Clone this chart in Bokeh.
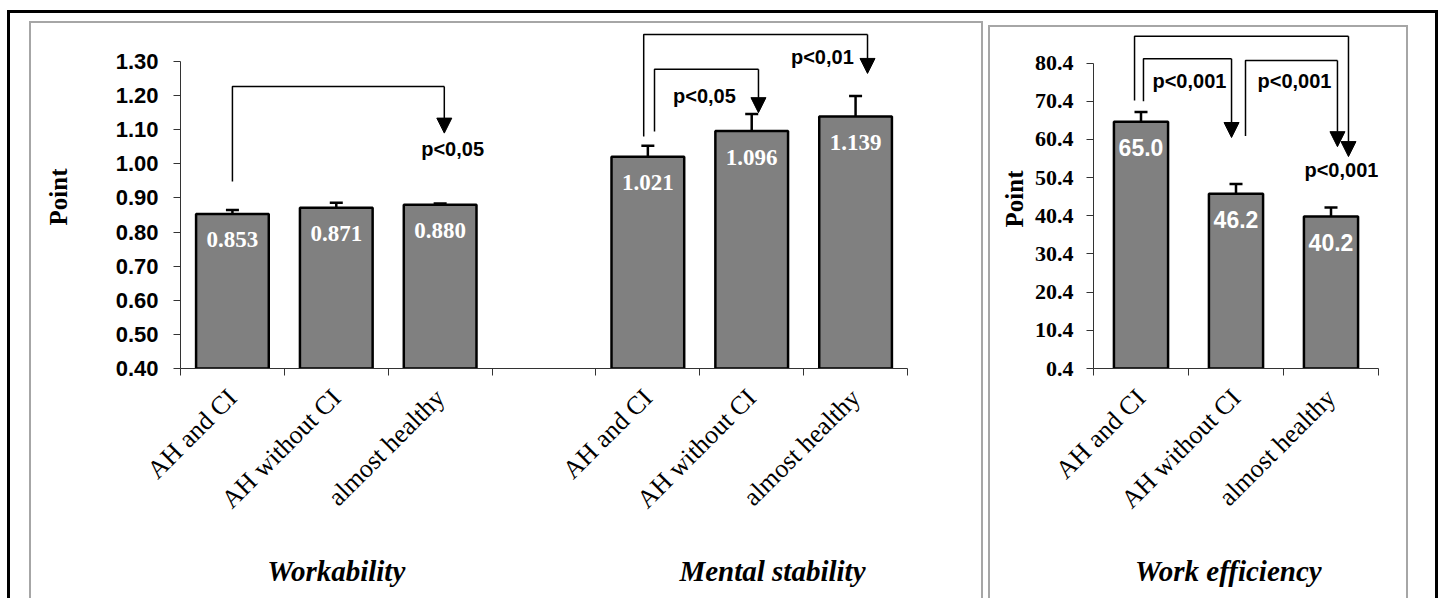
import math
from bokeh.plotting import figure
from bokeh.layouts import row
from bokeh.models import (Range1d, FixedTicker, Whisker, TeeHead, Arrow, NormalHead,
                          LinearAxis, ColumnDataSource, NumeralTickFormatter)
from bokeh.core.properties import value
from bokeh.embed import file_html
from bokeh.resources import INLINE

# ---------------- data ----------------
groups = ["AH and CI", "AH without CI", "almost healthy"]
workability = [0.853, 0.871, 0.880]
workability_err = [0.012, 0.015, 0.004]
mental = [1.021, 1.096, 1.139]
mental_err = [0.032, 0.050, 0.060]
efficiency = [65.0, 46.2, 40.2]
efficiency_err = [2.6, 2.5, 2.4]
left_ticks = [0.40, 0.50, 0.60, 0.70, 0.80, 0.90, 1.00, 1.10, 1.20, 1.30]
right_ticks = [0.4, 10.4, 20.4, 30.4, 40.4, 50.4, 60.4, 70.4, 80.4]
panel_titles = ["Workability", "Mental stability", "Work efficiency"]
y_label = "Point"

# significance brackets: (x_left, x_right, y_start, y_top, y_tip, label, label_x, label_y)
left_brackets = [
    (1.00, 3.04, 0.948, 1.227, 1.090, "p<0,05", 3.12, 1.042),
    (4.96, 7.115, 1.080, 1.379, 1.265, "p<0,01", 6.68, 1.312),
    (5.064, 6.065, 1.095, 1.277, 1.150, "p<0,05", 5.545, 1.198),
]
right_brackets = [
    (0.932, 3.184, 70.6, 87.4, 55.9, None, None, None),
    (1.026, 1.953, 70.4, 81.5, 60.9, "p<0,001", 1.51, 75.6),
    (2.10, 3.068, 61.3, 81.1, 58.5, "p<0,001", 2.616, 75.6),
    (None, None, None, None, None, "p<0,001", 3.11, 52.4),
]

SERIF = "Liberation Serif"
SANS = "Liberation Sans"
BAR_FILL = "#808080"
AXIS_COL = "#333333"


def base_fig(width, height, xr, yr, mb_left, mb_right, mb_top, mb_bottom, margin, border):
    p = figure(width=width, height=height, x_range=Range1d(*xr), y_range=Range1d(*yr),
               output_backend="svg", toolbar_location=None,
               min_border_left=mb_left, min_border_right=mb_right,
               min_border_top=mb_top, min_border_bottom=mb_bottom,
               margin=margin, styles=border)
    p.outline_line_color = None
    p.xgrid.visible = False
    p.ygrid.visible = False
    p.background_fill_color = "white"
    p.border_fill_color = "white"
    return p


def style_x(p, centers, bounds, labels):
    ax = p.xaxis[0]
    ax.ticker = FixedTicker(ticks=centers, minor_ticks=bounds)
    ax.major_label_overrides = {c: l for c, l in zip(centers, labels)}
    ax.major_tick_in = 0
    ax.major_tick_out = 0
    ax.minor_tick_in = 0
    ax.minor_tick_out = 7
    ax.minor_tick_line_color = AXIS_COL
    ax.axis_line_color = AXIS_COL
    ax.major_label_orientation = math.pi / 4
    ax.major_label_text_font = SERIF
    ax.major_label_text_font_size = "26px"
    ax.major_label_text_color = "black"
    ax.major_label_standoff = 18


def titles_axis(p, xs, texts, standoff):
    ax = LinearAxis(ticker=FixedTicker(ticks=xs, minor_ticks=[]),
                    major_label_overrides={x: t for x, t in zip(xs, texts)})
    ax.axis_line_color = None
    ax.major_tick_line_color = None
    ax.minor_tick_line_color = None
    ax.major_label_text_font = SERIF
    ax.major_label_text_font_style = "bold italic"
    ax.major_label_text_font_size = "29px"
    ax.major_label_text_color = "black"
    ax.major_label_standoff = standoff
    p.add_layout(ax, "below")


def style_y(p, ticks, fmt, font, size, standoff, label_standoff):
    ax = p.yaxis[0]
    ax.ticker = FixedTicker(ticks=ticks)
    ax.formatter = NumeralTickFormatter(format=fmt)
    ax.bounds = (ticks[0], ticks[-1])
    ax.major_tick_in = 0
    ax.major_tick_out = 7
    ax.minor_tick_out = 0
    ax.minor_tick_in = 0
    ax.axis_line_color = AXIS_COL
    ax.major_tick_line_color = AXIS_COL
    ax.major_label_text_font = font
    ax.major_label_text_font_style = "bold"
    ax.major_label_text_font_size = size
    ax.major_label_text_color = "black"
    ax.major_label_standoff = standoff
    ax.axis_label = y_label
    ax.axis_label_text_font = SERIF
    ax.axis_label_text_font_style = "bold"
    ax.axis_label_text_font_size = "25px"
    ax.axis_label_text_color = "black"
    ax.axis_label_standoff = label_standoff


def bars(p, xs, vals, errs, base, width, fmt, lab_font, lab_size):
    src = ColumnDataSource(dict(x=xs, top=vals,
                                upper=[v + e for v, e in zip(vals, errs)],
                                lower=[v - e for v, e in zip(vals, errs)],
                                lab=[fmt.format(v) for v in vals]))
    p.vbar(x="x", top="top", bottom=base, width=width, source=src,
           fill_color=BAR_FILL, line_color="black", line_width=2.5)
    p.add_layout(Whisker(base="x", upper="upper", lower="lower", source=src,
                         line_width=2.5, line_color="black",
                         upper_head=TeeHead(size=13, line_width=2.5, line_color="black"),
                         lower_head=TeeHead(size=13, line_width=2.5, line_color="black")))
    p.text(x="x", y="top", text="lab", source=src, text_color="white",
           text_font=value(lab_font), text_font_style="bold", text_font_size=lab_size,
           text_align="center", text_baseline="middle", y_offset=26)


def brackets(p, specs):
    for xl, xr, ys, yt, ytip, lab, lx, ly in specs:
        if xl is not None:
            p.line(x=[xl, xl, xr], y=[ys, yt, yt], line_color="black", line_width=1.5)
            p.add_layout(Arrow(x_start=xr, y_start=yt, x_end=xr, y_end=ytip,
                               line_color="black", line_width=1.5,
                               end=NormalHead(size=15, fill_color="black",
                                              line_color="black", line_width=1)))
        if lab is not None:
            p.text(x=[lx], y=[ly], text=[lab], text_font=value(SANS), text_font_style="bold",
                   text_font_size="20px", text_align="center", text_baseline="middle",
                   text_color="black")


GREY = "2px solid #a6a6a6"
PANEL_BORDER = {"border-top": GREY, "border-left": GREY, "border-right": GREY}

# ---------------- left panel ----------------
pl = base_fig(954, 577, (0.5, 7.5), (0.40, 1.4055), 149, 78, 2, 232,
              (8, 0, 0, 19), PANEL_BORDER)
style_x(pl, [1, 2, 3, 5, 6, 7], [0.5, 1.5, 2.5, 3.5, 4.5, 5.5, 6.5, 7.5], groups + groups)
style_y(pl, left_ticks, "0.00", SANS, "22px", 15, 41)
bars(pl, [1, 2, 3], workability, workability_err, left_ticks[0], 0.7, "{:.3f}", SERIF, "23px")
bars(pl, [5, 6, 7], mental, mental_err, left_ticks[0], 0.7, "{:.3f}", SERIF, "23px")
brackets(pl, left_brackets)
titles_axis(pl, [2.0, 6.2], panel_titles[:2], 21)

# ---------------- right panel ----------------
pr = base_fig(420, 573, (0.5, 3.5), (0.4, 89.19), 103, 32, 2, 231,
              (12, 27, 0, 5), PANEL_BORDER)
style_x(pr, [1, 2, 3], [0.5, 1.5, 2.5, 3.5], groups)
style_y(pr, right_ticks, "0.0", SERIF, "22px", 13, 4)
bars(pr, [1, 2, 3], efficiency, efficiency_err, right_ticks[0], 0.57, "{:.1f}", SANS, "23px")
brackets(pr, right_brackets)
titles_axis(pr, [1.92], panel_titles[2:], 21)

layout = row(pl, pr, margin=(10, 0, 0, 7),
             styles={"border-top": "3px solid black", "border-left": "3px solid black",
                     "border-right": "3px solid black"})

open("out.html", "w").write(file_html(layout, INLINE))
